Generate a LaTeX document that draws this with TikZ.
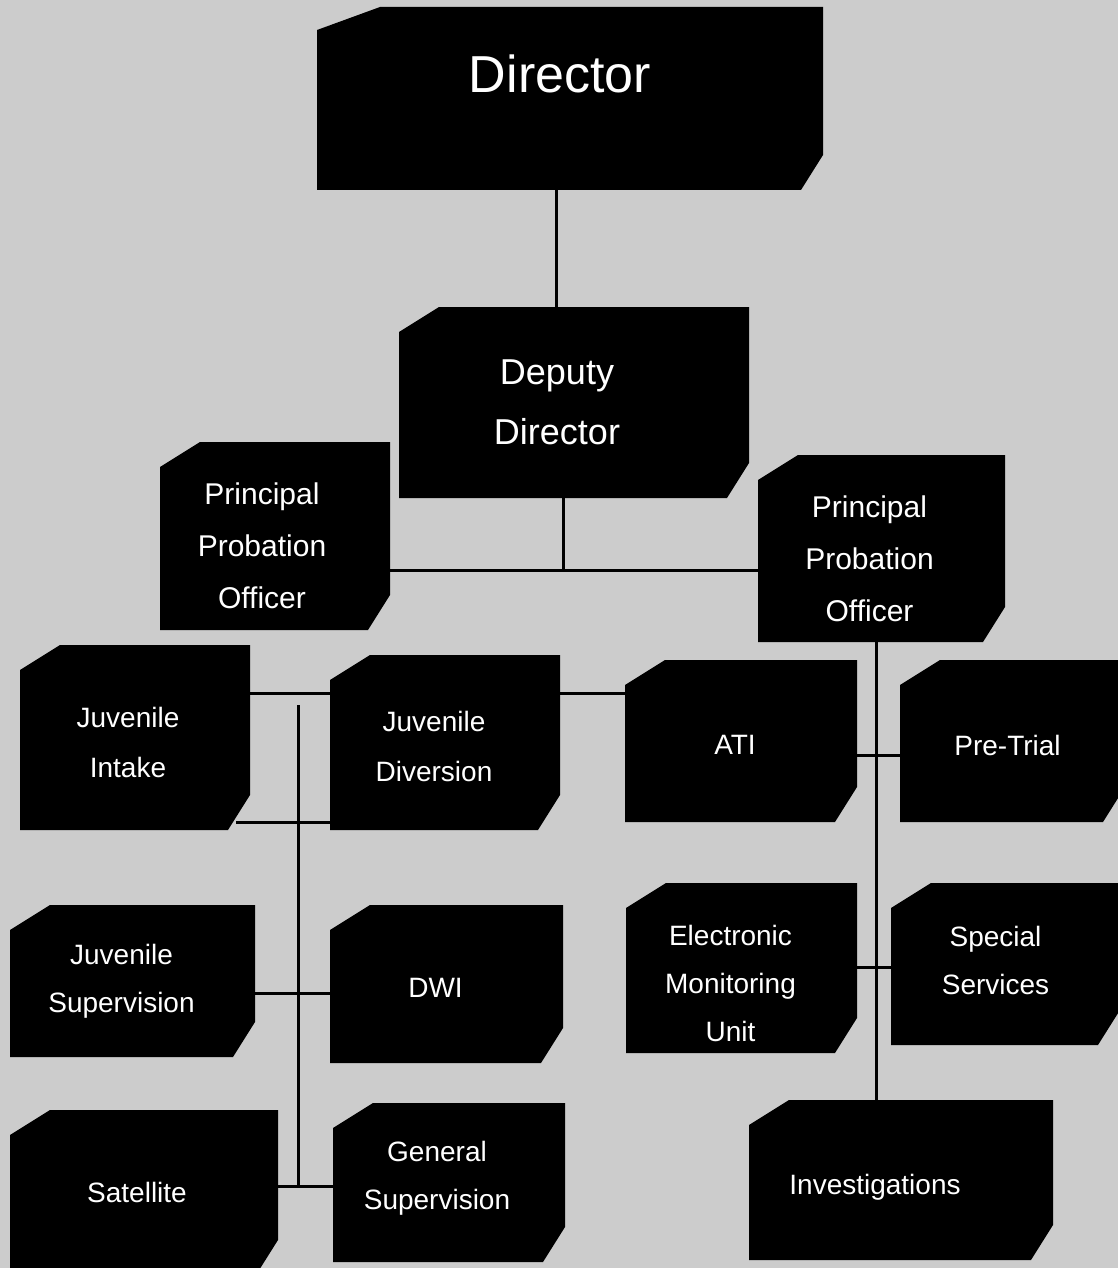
\documentclass[tikz,border=0pt]{standalone}
\usepackage{fontspec}
\setmainfont{Liberation Sans}

\definecolor{paper}{gray}{0.80}

\tikzset{
    cut box/.style 2 args={rectangle, inner sep=0pt, path picture={
        \fill (path picture bounding box.north west) ++(0pt,-#2) -- ++(#1,#2)
            -| ([yshift=35pt]path picture bounding box.south east) -- ++(-22pt,-35pt)
            -| ([yshift=-#2]path picture bounding box.north west) -- cycle;}},
    unit/.style={cut box={40pt}{25pt}},
    every label/.style={text=white, align=center, font=\fontsize{28}{48}\selectfont},
    link/.style={line width=3pt},
}

\begin{document}
\begin{tikzpicture}[x=1pt, y=-1pt]
    \useasboundingbox (0,0) rectangle (1118,1268);
    \clip (0,0) rectangle (1118,1268);
    \fill[paper] (0,0) rectangle (1118,1268);

    % top of the chart
    \node[cut box={63pt}{23pt}, minimum width=506pt, minimum height=183pt,
        label={[xshift=-10pt, yshift=25pt, font=\fontsize{52}{60}\selectfont]center:Director}]
        (director) at (570,98.5) {};
    \node[unit, minimum width=350pt, minimum height=191pt,
        label={[xshift=-17pt, font=\fontsize{36}{60}\selectfont]center:Deputy\\Director}]
        (deputy) at (574,402.5) {};
    \node[unit, minimum width=230pt, minimum height=188pt,
        label={[xshift=-13pt, yshift=-10pt, font=\fontsize{30}{52}\selectfont]center:Principal\\Probation\\Officer}]
        (ppoL) at (275,536) {};
    \node[unit, minimum width=247pt, minimum height=187pt,
        label={[xshift=-12pt, yshift=-10pt, font=\fontsize{30}{52}\selectfont]center:Principal\\Probation\\Officer}]
        (ppoR) at (881.5,548.5) {};

    % units
    \node[unit, minimum width=230pt, minimum height=185pt,
        label={[xshift=-7pt, yshift=-5pt, font=\fontsize{28}{50}\selectfont]center:Juvenile\\Intake}]
        (intake) at (135,737.5) {};
    \node[unit, minimum width=230pt, minimum height=175pt,
        label={[xshift=-11pt, yshift=-4pt, font=\fontsize{28}{50}\selectfont]center:Juvenile\\Diversion}]
        (diversion) at (445,742.5) {};
    \node[unit, minimum width=232pt, minimum height=162pt,
        label={[xshift=-6pt, yshift=-4pt]center:ATI}]
        (ati) at (741,741) {};
    \node[unit, minimum width=225pt, minimum height=162pt,
        label={[xshift=-5pt, yshift=-4pt]center:Pre-Trial}]
        (pretrial) at (1012.5,741) {};
    \node[unit, minimum width=245pt, minimum height=152pt,
        label={[xshift=-11pt]center:Juvenile\\Supervision}]
        (jsup) at (132.5,981) {};
    \node[unit, minimum width=233pt, minimum height=158pt,
        label={[xshift=-11pt, yshift=-4pt]center:DWI}]
        (dwi) at (446.5,984) {};
    \node[unit, minimum width=231pt, minimum height=170pt,
        label={[xshift=-11pt, yshift=-15pt]center:Electronic\\Monitoring\\Unit}]
        (emu) at (741.5,968) {};
    \node[unit, minimum width=229pt, minimum height=162pt,
        label={[xshift=-10pt, yshift=4pt]center:Special\\Services}]
        (special) at (1005.5,964) {};
    \node[unit, minimum width=268pt, minimum height=165pt,
        label={[xshift=-7pt]center:Satellite}]
        (satellite) at (144,1192.5) {};
    \node[unit, minimum width=232pt, minimum height=159pt,
        label={[xshift=-12pt, yshift=4pt]center:General\\Supervision}]
        (gensup) at (449,1182.5) {};
    \node[unit, minimum width=304pt, minimum height=160pt,
        label={[xshift=-26pt, yshift=-7pt]center:Investigations}]
        (invest) at (901,1180) {};

    % junction points
    \coordinate (top) at (556,0);
    \coordinate (bar) at (563,570);
    \coordinate (spineR) at (876,0);
    \coordinate (j1) at (0,755);
    \coordinate (j2) at (0,967);
    \coordinate (k1) at (0,693);
    \coordinate (k2) at (236,822);
    \coordinate (k3) at (298,705);
    \coordinate (k4) at (0,993);
    \coordinate (k5) at (298,1186);

    % connectors
    \draw[link] (director.south -| top) -- (deputy.north -| top);
    \draw[link] (deputy.south -| bar) -- (bar);
    \draw[link] (ppoL.east |- bar) -- (ppoR.west |- bar);
    \draw[link] (ppoR.south -| spineR) -- (invest.north -| spineR);
    \draw[link] (ati.east |- j1) -- (pretrial.west |- j1);
    \draw[link] (emu.east |- j2) -- (special.west |- j2);
    \draw[link] (intake.east |- k1) -- (diversion.west |- k1);
    \draw[link] (diversion.east |- k1) -- (ati.west |- k1);
    \draw[link] (k2) -- (diversion.west |- k2);
    \draw[link] (k3) -- (k5);
    \draw[link] (jsup.east |- k4) -- (dwi.west |- k4);
    \draw[link] (satellite.east |- k5) -- (gensup.west |- k5);
\end{tikzpicture}
\end{document}
